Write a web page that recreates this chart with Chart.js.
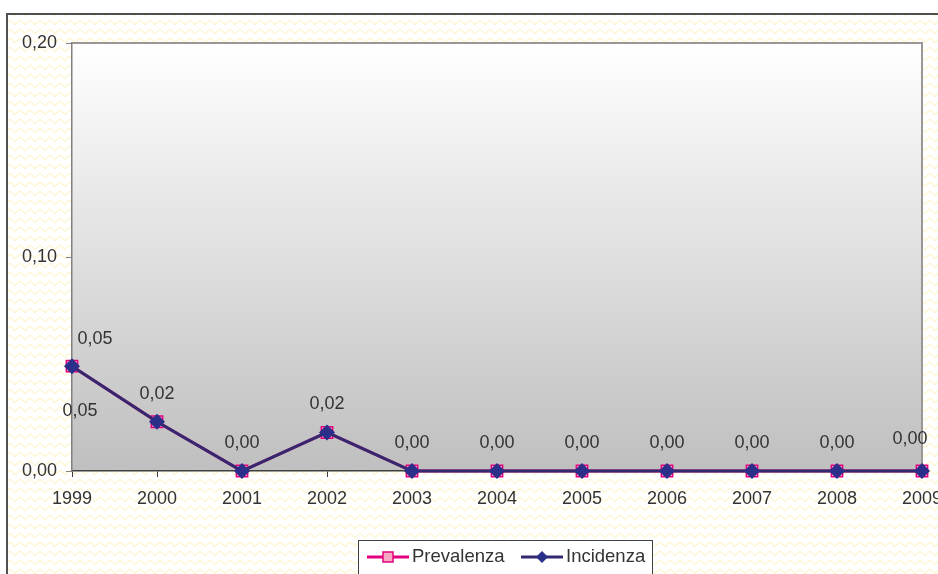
<!DOCTYPE html>
<html>
<head>
<meta charset="utf-8">
<script src="https://cdn.jsdelivr.net/npm/chart.js@4"></script>
<style>
  html, body { margin: 0; padding: 0; background: #fff; }
  #wrap { width: 938px; height: 574px; position: relative; }
</style>
</head>
<body>
<div id="wrap"><canvas id="lineChart" width="938" height="574"></canvas></div>
<script>
// dati
const anni = ["1999", "2000", "2001", "2002", "2003", "2004", "2005", "2006", "2007", "2008", "2009"];
const prevalenza = [0.049, 0.023, 0, 0.018, 0, 0, 0, 0, 0, 0, 0];
const incidenza = [0.049, 0.023, 0, 0.018, 0, 0, 0, 0, 0, 0, 0];
const yTicks = [0, 0.1, 0.2];

const fmt = v => v.toFixed(2).replace(".", ",");
const FONT = '"Liberation Sans", Arial, sans-serif';

// spostamenti delle etichette (solo stile)
const labelOff = {
  incidenza: { def: [0, -28], 0: [23, -27], 10: [-12, -32] },
  prevalenza: { only: [0], def: [8, 45] }
};

// motivo a zig-zag giallo
function zigzag() {
  const c = document.createElement("canvas");
  c.width = 10; c.height = 9;
  const g = c.getContext("2d");
  g.fillStyle = "#fff";
  g.fillRect(0, 0, 10, 9);
  g.strokeStyle = "#fdf7d6";
  g.lineWidth = 1.5;
  g.beginPath();
  g.moveTo(0, 2); g.lineTo(5, 6.5); g.lineTo(10, 2);
  g.stroke();
  return g.createPattern(c, "repeat");
}

const sfondo = {
  id: "sfondo",
  beforeDraw(chart) {
    const ctx = chart.ctx, a = chart.chartArea;
    ctx.save();
    ctx.fillStyle = "#fff";
    ctx.fillRect(0, 0, chart.width, chart.height);
    ctx.fillStyle = zigzag();
    ctx.fillRect(7, 15, chart.width, chart.height);
    ctx.strokeStyle = "#505050";
    ctx.lineWidth = 2;
    ctx.strokeRect(7, 14, chart.width + 10, chart.height + 10);
    const grad = ctx.createLinearGradient(0, a.top, 0, a.bottom);
    grad.addColorStop(0, "#ffffff");
    grad.addColorStop(1, "#bfbfbf");
    ctx.fillStyle = grad;
    ctx.fillRect(a.left, a.top, a.right - a.left, a.bottom - a.top);
    ctx.strokeStyle = "#9e9696";
    ctx.lineWidth = 2;
    ctx.beginPath();
    ctx.moveTo(a.left, a.top); ctx.lineTo(a.right, a.top); ctx.lineTo(a.right, a.bottom);
    ctx.stroke();
    ctx.restore();
  }
};

const etichette = {
  id: "etichette",
  afterDatasetsDraw(chart) {
    const ctx = chart.ctx;
    ctx.save();
    ctx.font = "18px " + FONT;
    ctx.fillStyle = "#333";
    ctx.textAlign = "center";
    ctx.textBaseline = "middle";
    chart.data.datasets.forEach((ds, di) => {
      const off = labelOff[ds.key];
      const meta = chart.getDatasetMeta(di);
      meta.data.forEach((pt, i) => {
        if (off.only && !off.only.includes(i)) return;
        const o = off[i] || off.def;
        ctx.fillText(fmt(ds.data[i]), pt.x + o[0], pt.y + o[1]);
      });
    });
    ctx.restore();
  }
};

const legenda = {
  id: "legenda",
  afterDraw(chart) {
    const ctx = chart.ctx;
    ctx.save();
    ctx.fillStyle = "#fff";
    ctx.fillRect(358, 540, 294, 40);
    ctx.strokeStyle = "#404040";
    ctx.lineWidth = 1;
    ctx.strokeRect(358.5, 540.5, 294, 40);
    const y = 557;
    const items = [
      { x: 367, ds: chart.data.datasets[0] },
      { x: 521, ds: chart.data.datasets[1] }
    ];
    ctx.font = "18.5px " + FONT;
    ctx.textBaseline = "middle";
    items.forEach(it => {
      const ds = it.ds;
      ctx.strokeStyle = ds.borderColor;
      ctx.lineWidth = 3;
      ctx.beginPath();
      ctx.moveTo(it.x, y); ctx.lineTo(it.x + 42, y);
      ctx.stroke();
      ctx.fillStyle = ds.pointBackgroundColor;
      ctx.strokeStyle = ds.pointBorderColor;
      ctx.lineWidth = 1.5;
      const cx = it.x + 21;
      if (ds.pointStyle === "rect") {
        ctx.fillRect(cx - 5, y - 5, 10, 10);
        ctx.strokeRect(cx - 5, y - 5, 10, 10);
      } else {
        ctx.beginPath();
        ctx.moveTo(cx, y - 6); ctx.lineTo(cx + 6, y); ctx.lineTo(cx, y + 6); ctx.lineTo(cx - 6, y);
        ctx.closePath();
        ctx.fill();
      }
      ctx.fillStyle = "#333";
      ctx.textAlign = "left";
      ctx.fillText(ds.label, it.x + 45, y);
    });
    ctx.restore();
  }
};

const lineCtx = document.getElementById("lineChart").getContext("2d");
const lineChart = new Chart(lineCtx, {
  type: "line",
  data: {
    labels: anni,
    datasets: [
      {
        key: "prevalenza",
        label: "Prevalenza",
        data: prevalenza,
        borderColor: "#e5007e",
        borderWidth: 3,
        pointStyle: "rect",
        pointRadius: 8,
        pointBackgroundColor: "#f7a9c4",
        pointBorderColor: "#e5007e",
        pointBorderWidth: 1.5,
        tension: 0,
        clip: false,
        order: 2
      },
      {
        key: "incidenza",
        label: "Incidenza",
        data: incidenza,
        borderColor: "#33296e",
        borderWidth: 3,
        pointStyle: "rectRot",
        pointRadius: 8,
        pointBackgroundColor: "#2b2f8a",
        pointBorderColor: "#2b2f8a",
        pointBorderWidth: 0,
        tension: 0,
        clip: false,
        order: 1
      }
    ]
  },
  options: {
    responsive: false,
    animation: false,
    devicePixelRatio: 1,
    layout: { padding: { top: 43, left: 0, right: 16, bottom: 0 } },
    plugins: { legend: { display: false }, tooltip: { enabled: false } },
    scales: {
      x: {
        offset: false,
        grid: { drawOnChartArea: false, drawTicks: true, tickLength: 6, color: "#404040" },
        border: { color: "#404040", width: 1.5 },
        ticks: { color: "#333", font: { size: 18, family: FONT }, padding: 11, maxRotation: 0, autoSkip: false },
        afterFit(s) { s.height = 103; s.paddingLeft = 0; s.paddingRight = 0; }
      },
      y: {
        min: 0,
        max: 0.2,
        afterBuildTicks(s) { s.ticks = yTicks.map(v => ({ value: v })); },
        grid: { drawOnChartArea: false, drawTicks: true, tickLength: 6, color: "#808080" },
        border: { color: "#808080", width: 1.5 },
        ticks: { color: "#333", font: { size: 18, family: FONT }, padding: 9, callback: v => fmt(v) },
        afterFit(s) { s.width = 72; }
      }
    }
  },
  plugins: [sfondo, etichette, legenda]
});
</script>
</body>
</html>
